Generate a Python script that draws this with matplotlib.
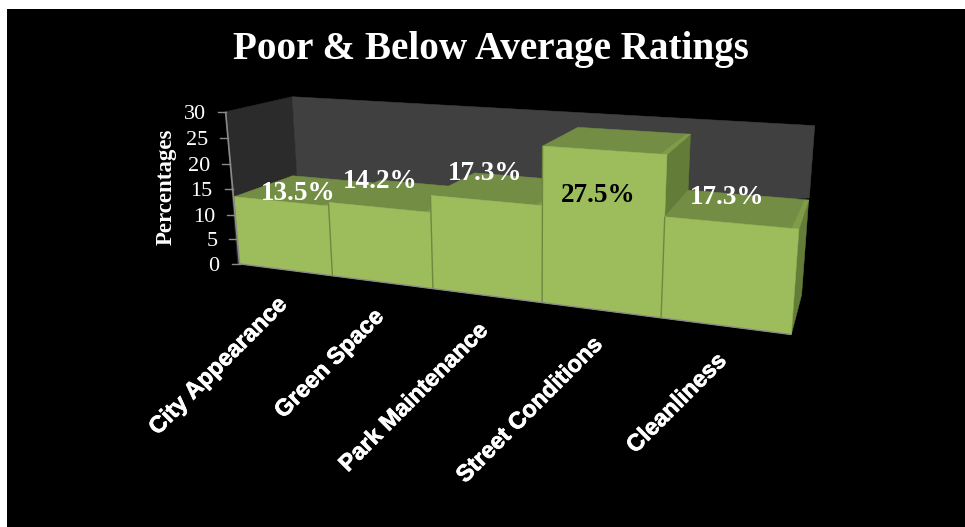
import numpy as np
import matplotlib
matplotlib.use("Agg")
import matplotlib.pyplot as plt
import matplotlib.patheffects as pe
from matplotlib.patches import Polygon

categories = ["City Appearance", "Green Space", "Park Maintenance", "Street Conditions", "Cleanliness"]
values = [13.5, 14.2, 17.3, 27.5, 17.3]
value_labels = ["13.5%", "14.2%", "17.3%", "27.5%", "17.3%"]
label_colors = ["white", "white", "white", "black", "white"]
y_ticks = [0, 5, 10, 15, 20, 25, 30]

W, H = 965, 527
WALL_D = 1.08
AXIS_D = -0.03

FRONT = "#9dbd5d"
TOP = "#748d44"
SIDE = "#637d38"
BEVEL = "#7f9c49"
DIVIDER = "#6e8840"
BACK_WALL = "#404040"
SIDE_WALL = "#2b2b2b"
AXIS = "#8a8a8a"

# camera calibration: box position (u, depth, value) -> where it lands on the canvas
cam_refs = [
    (0, 0, 0, 240.0, 264.0), (1, 0, 0, 331.7, 275.7), (2, 0, 0, 432.3, 289.0),
    (3, 0, 0, 541.7, 301.7), (4, 0, 0, 661.7, 317.7), (5, 0, 0, 791.7, 335.0),
    (0, 0, 13.5, 234.3, 198.3), (1, 0, 13.5, 327.7, 204.0), (2, 0, 14.2, 430.0, 212.3),
    (2, 0, 17.3, 431.0, 196.0), (3, 0, 17.3, 541.7, 205.7), (3, 0, 27.5, 543.3, 146.7),
    (4, 0, 27.5, 666.7, 155.0), (4, 0, 17.3, 665.7, 217.3), (5, 0, 17.3, 798.3, 229.3),
    (3, 1, 27.5, 580.0, 127.3), (4, 1, 27.5, 690.0, 134.3), (5, 1, 17.3, 808.3, 199.3),
    (0, 1, 13.5, 294.3, 176.7),
    (0, WALL_D, 30, 290.0, 97.3), (5, WALL_D, 30, 814.3, 125.0),
    (0, AXIS_D, 30, 226.0, 110.7), (0, AXIS_D, 15, 232.7, 189.0),
]


def fit_camera(refs):
    # DLT, reweighted a few times so the error is measured on the canvas
    weights = np.ones(len(refs))
    for _ in range(30):
        rows = []
        for (u, d, v, x, y), w in zip(refs, weights):
            x, y = x / 500.0, y / 500.0
            p = [u, d * 5, v / 6.0, 1.0]
            rows.append([c / w for c in p + [0, 0, 0, 0] + [-x * c for c in p]])
            rows.append([c / w for c in [0, 0, 0, 0] + p + [-y * c for c in p]])
        _, _, vt = np.linalg.svd(np.array(rows))
        m = vt[-1].reshape(3, 4)
        weights = np.array([m[2] @ np.array([u, d * 5, v / 6.0, 1.0]) for u, d, v, x, y in refs])
    return m


CAM = fit_camera(cam_refs)


def proj(u, d, v):
    h = CAM @ np.array([u, d * 5, v / 6.0, 1.0])
    return h[0] / h[2] * 500.0, h[1] / h[2] * 500.0


def face(ax, pts, color, z=2):
    ax.add_patch(Polygon([proj(*p) for p in pts], closed=True, facecolor=color,
                         edgecolor=color, linewidth=0.4, zorder=z))


def seg(ax, p0, p1, color, lw=1.0, z=3):
    x0, y0 = proj(*p0)
    x1, y1 = proj(*p1)
    ax.plot([x0, x1], [y0, y1], color=color, lw=lw, zorder=z, solid_capstyle="butt")


fig = plt.figure(figsize=(W / 100, H / 100), dpi=100, facecolor="white")
ax = fig.add_axes([7 / W, 0, 1 - 7 / W, 1 - 9 / H], facecolor="black")
ax.set_xlim(7, W)
ax.set_ylim(H, 9)
ax.set_xticks([])
ax.set_yticks([])
for s in ax.spines.values():
    s.set_visible(False)

n = len(values)

# walls, the back one stops at the top of the last bar on the right
face(ax, [(0, AXIS_D, 0), (0, WALL_D, 0), (0, WALL_D, 30), (0, AXIS_D, 30)], SIDE_WALL, 1)
face(ax, [(0, WALL_D, 0), (n, WALL_D, values[-1]), (n, WALL_D, 30), (0, WALL_D, 30)], BACK_WALL, 1)

# bars, painted left to right so the nearer body covers the one before it
for i, v in enumerate(values):
    z = 2 + i * 0.1
    face(ax, [(i + 1, 0, 0), (i + 1, 1, 0), (i + 1, 1, v), (i + 1, 0, v)], SIDE, z)
    face(ax, [(i, 0, v), (i + 1, 0, v), (i + 1, 1, v), (i, 1, v)], TOP, z)
    face(ax, [(i + 0.95, 0, v), (i + 1, 0, v), (i + 1, 1, v), (i + 0.97, 0.95, v)], BEVEL, z)
    face(ax, [(i, 0, 0), (i + 1, 0, 0), (i + 1, 0, v), (i, 0, v)], FRONT, z)
    if i > 0:
        seg(ax, (i, 0, 0), (i, 0, v), DIVIDER, 1.0, z + 0.01)

# floor edge and value axis with its ticks
seg(ax, (0, 0, 0), (n, 0, 0), AXIS, 1.0, 3)
seg(ax, (0, 0, 0), (0, AXIS_D, 30), AXIS, 1.2, 3)
for t in y_ticks:
    x, y = proj(0, AXIS_D * t / 30.0, t)
    ax.plot([x - 8, x], [y, y], color=AXIS, lw=1.0, zorder=3)
    ax.text(x - 20, y + 2.5, str(t), color="white", ha="right", va="center",
            family="Liberation Serif", fontsize=16)

ax.text(166, 187, "Percentages", color="white", rotation=90, ha="center", va="center",
        family="Liberation Serif", fontweight="bold", fontsize=16.5)

for i, name in enumerate(categories):
    x, y = proj(i + 0.5, 0, 0)
    t = ax.text(x - 1.5, y + 31, name, color="white", rotation=45, rotation_mode="anchor",
                ha="right", va="center", family="Liberation Sans", fontweight="bold", fontsize=16.9)
    t.set_path_effects([pe.withStroke(linewidth=0.5, foreground="white")])

label_xy = [(298, 194), (380, 181), (485, 174), (598, 195), (727, 197)]
for (x, y), txt, c in zip(label_xy, value_labels, label_colors):
    ax.text(x, y, txt, color=c, ha="center", va="center", family="Liberation Serif",
            fontweight="bold", fontsize=19.5, zorder=5)

ax.text(491, 50, "Poor & Below Average Ratings", color="white", ha="center", va="center",
        family="Liberation Serif", fontweight="bold", fontsize=28.2)

fig.savefig("out.png", dpi=100, facecolor="white")
